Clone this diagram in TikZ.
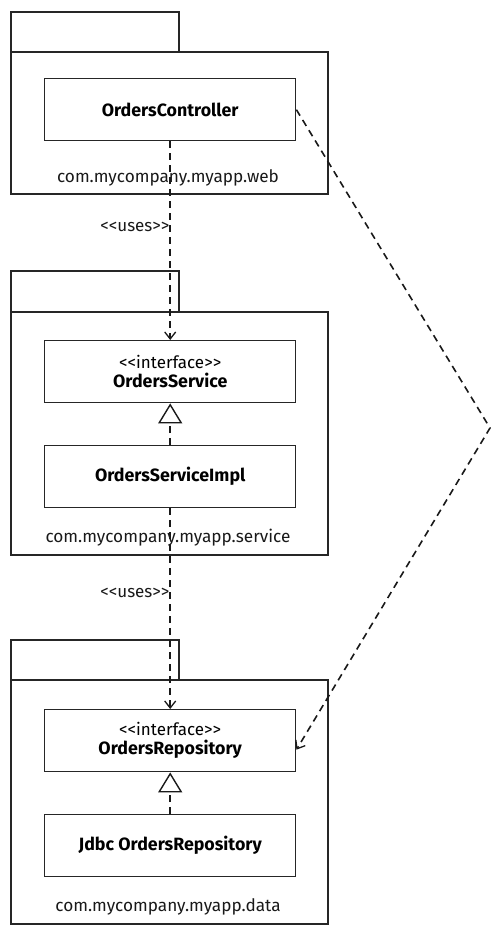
\documentclass[tikz,border=0pt]{standalone}
\usepackage{fontspec}
\setmainfont{Fira Sans}
\usetikzlibrary{arrows.meta}
\begin{document}
\begin{tikzpicture}[x=1pt,y=-1pt,
  pkg/.style={draw=black!85,line width=2.4pt,fill=white},
  cls/.style={draw=black!85,line width=1.4pt,fill=white,minimum width=251pt,minimum height=62pt,inner sep=0pt,align=center,anchor=north west,font=\fontsize{17.8}{19}\selectfont},
  pkglabel/.style={font=\fontsize{17.2}{19}\selectfont,text=black!90,inner sep=0pt},
  lbl/.style={font=\fontsize{17}{19}\selectfont,text=black!90,inner sep=0pt,anchor=east},
  dep/.style={draw=black!90,line width=1.6pt,dash pattern=on 7pt off 5pt,-{Straight Barb[length=7pt,width=11pt,line width=1.3pt]}},
  real/.style={draw=black!90,line width=1.6pt,dash pattern=on 7pt off 5pt,-{Triangle[open,length=20pt,width=24pt,line width=1.4pt,fill=white]}}
]
\useasboundingbox (0,0) rectangle (500,942);
\fill[white] (0,0) rectangle (500,942);
% packages
\draw[pkg] (11,12) rectangle (179,52);
\draw[pkg] (11,52) rectangle (328,194);
\draw[pkg] (11,271) rectangle (179,312);
\draw[pkg] (11,312) rectangle (328,555);
\draw[pkg] (11,640) rectangle (179,680);
\draw[pkg] (11,680) rectangle (328,924);
\node[pkglabel] (pkgweb) at (168,178) {com.mycompany.myapp.web};
\node[pkglabel] (pkgsvc) at (168,538) {com.mycompany.myapp.service};
\node[pkglabel] (pkgdata) at (168,907) {com.mycompany.myapp.data};
% classes
\node[cls] (ctrl) at (44,78) {\bfseries OrdersController};
\node[cls] (svc) at (44,340) {{\fontsize{17}{19}\selectfont {<}{<}interface{>}{>}}\\ \bfseries OrdersService};
\node[cls] (svcimpl) at (44,445) {\bfseries OrdersServiceImpl};
\node[cls] (repo) at (44,709) {{\fontsize{17}{19}\selectfont {<}{<}interface{>}{>}}\\ \bfseries OrdersRepository};
\node[cls] (jdbc) at (44,814) {\bfseries Jdbc OrdersRepository};
% connectors
\draw[dep] (ctrl.south) -- (svc.north) node[lbl,pos=0.43] (uses1) {{<}{<}uses{>}{>}};
\draw[dep] (svcimpl.south) -- (repo.north) node[lbl,pos=0.42] (uses2) {{<}{<}uses{>}{>}};
\draw[real] (svcimpl.north) -- (svc.south);
\draw[real] (jdbc.north) -- (repo.south);
\coordinate (bend) at (490,428);
\draw[dep] (ctrl.east) -- (bend) -- ([yshift=-9pt]repo.east);
\end{tikzpicture}
\end{document}
